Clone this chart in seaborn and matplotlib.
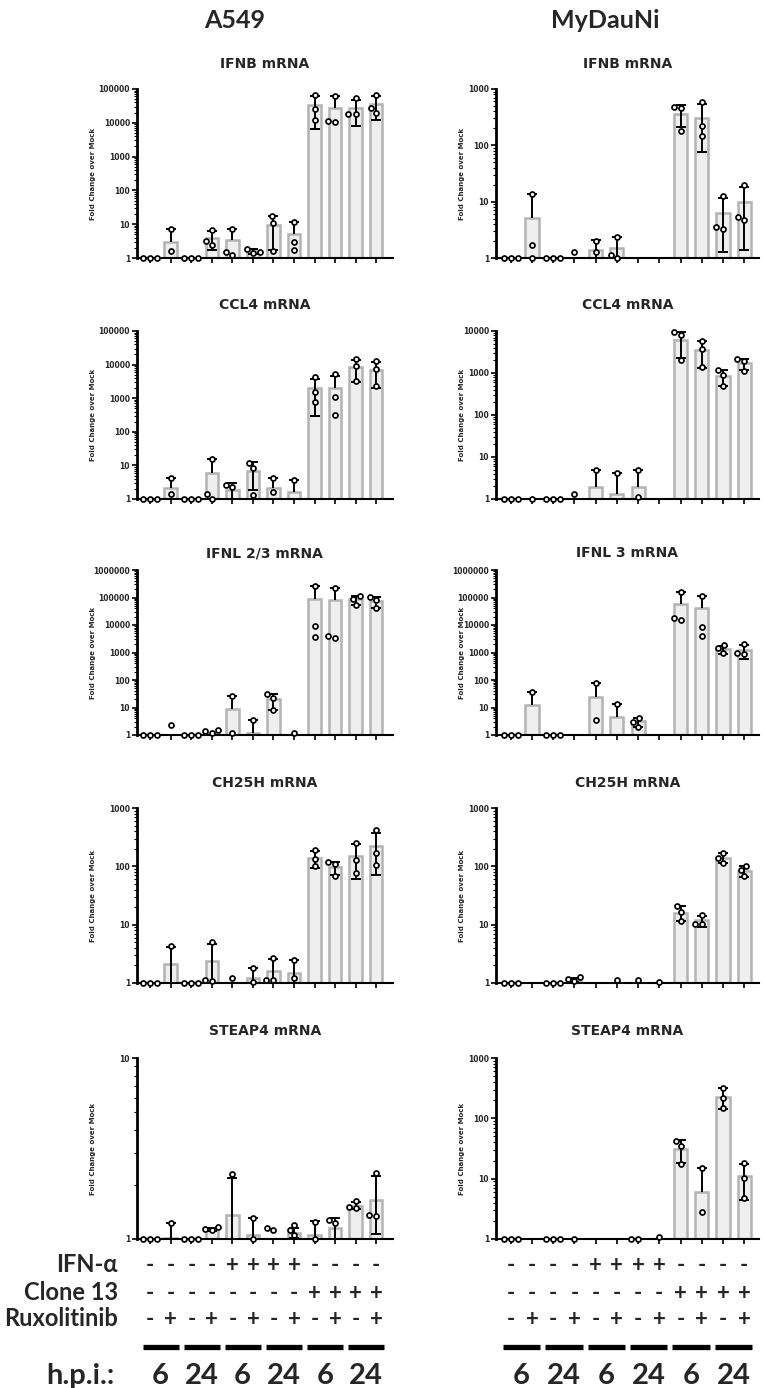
import numpy as np
import pandas as pd
import seaborn as sns
import matplotlib.pyplot as plt
from matplotlib import transforms
from matplotlib.ticker import LogLocator, FuncFormatter, NullFormatter

sns.set_style("ticks")
plt.rcParams['font.family'] = ['DejaVu Sans']
nan = np.nan

# treatment conditions (x order)
conditions = ['Mock 6h', 'Mock+Rux 6h', 'Mock 24h', 'Mock+Rux 24h',
              'IFN 6h', 'IFN+Rux 6h', 'IFN 24h', 'IFN+Rux 24h',
              'Cl13 6h', 'Cl13+Rux 6h', 'Cl13 24h', 'Cl13+Rux 24h']
ifn_alpha = ['-', '-', '-', '-', '+', '+', '+', '+', '-', '-', '-', '-']
clone13 = ['-', '-', '-', '-', '-', '-', '-', '-', '+', '+', '+', '+']
ruxolitinib = ['-', '+', '-', '+', '-', '+', '-', '+', '-', '+', '-', '+']
hpi = ['6', '24', '6', '24', '6', '24']

# ---- A549 ----
a549_ifnb_mean = [1, 3.0, 1, 4.0, 3.4, 1.6, 9.5, 5.2, 34000, 27000, 28000, 36000]
a549_ifnb_sd = [0, 4.2, 0, 2.3, 3.9, 0.25, 7.8, 6.4, 27500, 36000, 20000, 24000]
a549_ifnb_pts = [[1, 1, 1], [7.2, 1.65], [1, 1, 1], [6.6, 2.5, 3.1], [7.3, 1.25, 1.55],
                 [1.85, 1.5, 1.4], [17, 10.8, 1.65], [11.6, 2.95, 1.7],
                 [66000, 25800, 12300], [63000, 10900, 11400],
                 [54000, 18300, 18300], [66000, 27000, 20000]]

a549_ccl4_mean = [1, 2.1, 1, 6.0, 1.8, 7.0, 2.1, 1.6, 2000, 2060, 8500, 7000]
a549_ccl4_sd = [0, 2.2, 0, 10, 1.2, 5.2, 2.1, 2.1, 1700, 2400, 5500, 5000]
a549_ccl4_pts = [[1, 1, 1], [4.2, 1.4], [1, 1, 1], [16, 1.0, 1.4], [2.3, 2.66],
                 [11.7, 8.1, 1.3], [4.2, 1.58], [3.7], [4140, 1500, 750],
                 [5080, 1100, 310], [15000, 9000, 3300], [12800, 7300, 2240]]

a549_ifnl_mean = [1, 1, 1, 1.2, 9, 1.2, 20, 1, 88000, 78000, 85000, 74000]
a549_ifnl_sd = [0, 0, 0, 0, 17, 2.3, 12, 0, 170000, 150000, 30000, 31000]
a549_ifnl_pts = [[1, 1, 1], [2.3], [1, 1, 1], [1.15, 1.44, 1.5], [26, 1.2], [3.5],
                 [31, 23, 8.1], [1.15], [262000, 9200, 3770], [228000, 3300, 3900],
                 [113000, 90000, 53000], [101000, 82000, 40000]]

a549_ch25h_mean = [1, 2.1, 1, 2.4, 1, 1.2, 1.6, 1.5, 140, 96, 150, 225]
a549_ch25h_sd = [0, 2.05, 0, 2.35, 0, 0.6, 1.0, 1.0, 45, 25, 90, 155]
a549_ch25h_pts = [[1, 1, 1], [4.3], [1, 1, 1], [5.1, 1.07, 1.14], [1.23], [1.81, 1.05],
                  [2.69, 1.14, 1.14], [2.52, 1.22], [192, 135, 100], [118, 110, 67],
                  [254, 126, 76], [413, 169, 106]]

a549_steap4_mean = [1, 1.01, 1, 1.13, 1.36, 1.05, 1, 1.08, 1.05, 1.15, 1.53, 1.65]
a549_steap4_sd = [0, 0.21, 0, 0.02, 0.82, 0.25, 0, 0.07, 0.2, 0.15, 0.07, 0.58]
a549_steap4_pts = [[1, 1, 1], [1.22], [1, 1, 1], [1.16, 1.116, 1.135], [2.29], [1.3, 1.0],
                   [1.116, 1.15], [1.2, 1.125, 1.05], [1.24, 1.0], [1.22, 1.27],
                   [1.63, 1.51, 1.48], [2.33, 1.34, 1.36]]

# ---- MyDauNi ----
mydau_ifnb_mean = [1, 5.2, 1, 1, 1.4, 1.5, nan, nan, 360, 310, 6.4, 9.9]
mydau_ifnb_sd = [0, 8.3, 0, 0, 0.65, 0.85, 0, 0, 150, 235, 5.1, 8.5]
mydau_ifnb_pts = [[1, 1, 1], [13.5, 1.73, 1], [1, 1, 1], [1.28], [2.04, 1.28],
                  [2.33, 1.15, 1.0], [], [], [485, 458, 181], [596, 216, 144],
                  [12.6, 3.29, 3.57], [19.7, 4.8, 5.3]]

mydau_ccl4_mean = [1, 1, 1, 1, 1.9, 1.3, 1.9, nan, 6000, 3500, 850, 1700]
mydau_ccl4_sd = [0, 0, 0, 0, 3.0, 2.8, 3.0, 0, 3700, 2200, 350, 500]
mydau_ccl4_pts = [[1, 1, 1], [1], [1, 1, 1], [1.31], [4.9], [4.1], [4.9, 1.1], [],
                  [9300, 8000, 2030], [5900, 3800, 1390], [1170, 880, 490],
                  [2140, 1950, 1100]]

mydau_ifnl_mean = [1, 12.5, 1, nan, 25, 4.5, 3.1, nan, 58000, 40000, 1300, 1200]
mydau_ifnl_sd = [0, 24, 0, 0, 50, 8.5, 1.1, 0, 96000, 73000, 450, 600]
mydau_ifnl_pts = [[1, 1, 1], [36.6], [1, 1, 1], [], [75.6, 3.5], [13], [4.27, 3.05, 2.0],
                  [], [154000, 15000, 18500], [113000, 8200, 4000], [1820, 1400, 940],
                  [1980, 860, 940]]

mydau_ch25h_mean = [1, nan, 1, 1.12, nan, 1, 1, 1, 16, 11.8, 140, 84]
mydau_ch25h_sd = [0, 0, 0, 0.1, 0, 0, 0, 0, 4.6, 2.5, 27, 18]
mydau_ch25h_pts = [[1, 1, 1], [], [1, 1, 1], [1.1, 1.17, 1.28], [], [1.14], [1.14], [1.05],
                   [20.7, 16.3, 11.5], [14.9, 10.3, 10.3], [169, 140, 115], [103, 85, 67]]

mydau_steap4_mean = [1, nan, 1, 1, nan, nan, 1, 1, 31, 6.1, 230, 11]
mydau_steap4_sd = [0, 0, 0, 0, 0, 0, 0, 0, 13, 9, 85, 6.5]
mydau_steap4_pts = [[1, 1, 1], [], [1, 1, 1], [1], [], [], [1, 1], [1.1],
                    [42, 35, 17.5], [14.9, 2.8], [319, 220, 151], [18, 10.2, 4.75]]

panels = [
    (0, 0, 'IFNB mRNA', 1e5, a549_ifnb_mean, a549_ifnb_sd, a549_ifnb_pts),
    (1, 0, 'CCL4 mRNA', 1e5, a549_ccl4_mean, a549_ccl4_sd, a549_ccl4_pts),
    (2, 0, 'IFNL 2/3 mRNA', 1e6, a549_ifnl_mean, a549_ifnl_sd, a549_ifnl_pts),
    (3, 0, 'CH25H mRNA', 1e3, a549_ch25h_mean, a549_ch25h_sd, a549_ch25h_pts),
    (4, 0, 'STEAP4 mRNA', 1e1, a549_steap4_mean, a549_steap4_sd, a549_steap4_pts),
    (0, 1, 'IFNB mRNA', 1e3, mydau_ifnb_mean, mydau_ifnb_sd, mydau_ifnb_pts),
    (1, 1, 'CCL4 mRNA', 1e4, mydau_ccl4_mean, mydau_ccl4_sd, mydau_ccl4_pts),
    (2, 1, 'IFNL 3 mRNA', 1e6, mydau_ifnl_mean, mydau_ifnl_sd, mydau_ifnl_pts),
    (3, 1, 'CH25H mRNA', 1e3, mydau_ch25h_mean, mydau_ch25h_sd, mydau_ch25h_pts),
    (4, 1, 'STEAP4 mRNA', 1e3, mydau_steap4_mean, mydau_steap4_sd, mydau_steap4_pts),
]

W, H = 766, 1388
fig = plt.figure(figsize=(W / 100, H / 100), dpi=100)

row_px = [(89, 258), (331, 499), (570, 735), (808, 983), (1058, 1239)]
title_px = [64, 305, 553, 783, 1031]
col_px = [(137, 392.5), (496, 759)]
col_xlim = [(-0.65, 11.8), (-0.7, 11.7)]
ylabel_x = [-0.16, -0.118]
bottom_font = ['Lato', 'DejaVu Sans']


def draw_panel(ax, title, ytop, mean, sd, pts, xlim, ylx):
    ax.set_yscale('log')
    bars = pd.DataFrame({'cond': conditions, 'mean': mean})
    sns.barplot(data=bars, x='cond', y='mean', order=conditions, errorbar=None,
                color='#efefef', saturation=1, edgecolor='#b3b3b3', linewidth=1.8,
                width=0.62, ax=ax)

    # SD error bars (lower arm omitted when it would be negative)
    m = np.array(mean, float)
    s = np.array(sd, float)
    for i in range(len(m)):
        if np.isnan(m[i]) or s[i] <= 0:
            continue
        hi, lo = m[i] + s[i], m[i] - s[i]
        ax.vlines(i, m[i], hi, color='black', lw=1.4, zorder=3)
        ax.plot([i], [hi], marker='_', ms=6.5, mew=1.4, color='black', zorder=3)
        if lo > 0:
            ax.vlines(i, lo, m[i], color='black', lw=1.4, zorder=3)
            ax.plot([i], [lo], marker='_', ms=6.5, mew=1.4, color='black', zorder=3)

    rows = [(c, v) for c, vals in zip(conditions, pts) for v in vals]
    dots = pd.DataFrame(rows, columns=['cond', 'value'])
    sns.swarmplot(data=dots, x='cond', y='value', order=conditions, size=3.6,
                  color='white', edgecolor='black', linewidth=1.25, clip_on=False,
                  zorder=4, ax=ax, warn_thresh=1)

    ax.set_xlim(*xlim)
    ax.set_ylim(1, ytop)
    ax.yaxis.set_major_locator(LogLocator(base=10))
    ax.yaxis.set_minor_locator(LogLocator(base=10, subs=np.arange(2, 10)))
    ax.yaxis.set_major_formatter(FuncFormatter(lambda v, p: f'{v:.0f}'))
    ax.yaxis.set_minor_formatter(NullFormatter())
    ax.tick_params(axis='y', which='major', length=3.5, width=1.2, labelsize=5.5,
                   pad=1.5, color='black')
    ax.tick_params(axis='y', which='minor', length=2, width=0.8, color='black')
    ax.tick_params(axis='x', length=3.5, width=1.2, labelbottom=False, color='black')
    for lab in ax.get_yticklabels():
        lab.set_fontweight('bold')
    sns.despine(ax=ax)
    ax.spines['left'].set_linewidth(2)
    ax.spines['bottom'].set_linewidth(1.5)
    ax.spines['left'].set_color('black')
    ax.spines['bottom'].set_color('black')
    ax.set_xlabel('')
    ax.set_ylabel('Fold Change over Mock', fontsize=5, fontweight='bold')
    ax.yaxis.set_label_coords(ylx, 0.5)


axes = {}
for r, c, title, ytop, mean, sd, pts in panels:
    top, bot = row_px[r]
    x0, x1 = col_px[c]
    ax = fig.add_axes([x0 / W, 1 - bot / H, (x1 - x0) / W, (bot - top) / H])
    draw_panel(ax, title, ytop, mean, sd, pts, col_xlim[c], ylabel_x[c])
    fig.text((x0 + x1) / 2 / W, 1 - title_px[r] / H, title, ha='center', va='center',
             fontsize=10, fontweight='bold')
    axes[(r, c)] = ax

# column headers
fig.text(235 / W, 1 - 20 / H, 'A549', ha='center', va='center', fontsize=18,
         fontweight='bold', family=bottom_font)
fig.text(605 / W, 1 - 20 / H, 'MyDauNi', ha='center', va='center', fontsize=18,
         fontweight='bold', family=bottom_font)

# treatment table under the bottom panels
row_labels = ['IFN-α', 'Clone 13', 'Ruxolitinib']
row_signs = [ifn_alpha, clone13, ruxolitinib]
row_y = [1265, 1293, 1319]
for label, signs, ypx in zip(row_labels, row_signs, row_y):
    fig.text(118 / W, 1 - ypx / H, label, ha='right', va='center', fontsize=17,
             fontweight='bold', family=bottom_font)
    for c in (0, 1):
        ax = axes[(4, c)]
        tr = transforms.blended_transform_factory(ax.transData, fig.transFigure)
        for i, s in enumerate(signs):
            ax.text(i, 1 - ypx / H, s, transform=tr, ha='center', va='center',
                    fontsize=16, fontweight='bold', family=bottom_font, clip_on=False)

fig.text(115 / W, 1 - 1376 / H, 'h.p.i.:', ha='right', va='center', fontsize=21,
         fontweight='bold', family=bottom_font)
for c in (0, 1):
    ax = axes[(4, c)]
    tr = transforms.blended_transform_factory(ax.transData, fig.transFigure)
    for k, h in enumerate(hpi):
        xc = 2 * k + 0.5
        ax.plot([xc - 0.88, xc + 0.88], [1 - 1347 / H] * 2, transform=tr, color='black',
                lw=3.8, solid_capstyle='butt', clip_on=False)
        ax.text(xc, 1 - 1376 / H, h, transform=tr, ha='center', va='center',
                fontsize=21, fontweight='bold', family=bottom_font, clip_on=False)

fig.savefig('out.png', dpi=100, facecolor='white')
